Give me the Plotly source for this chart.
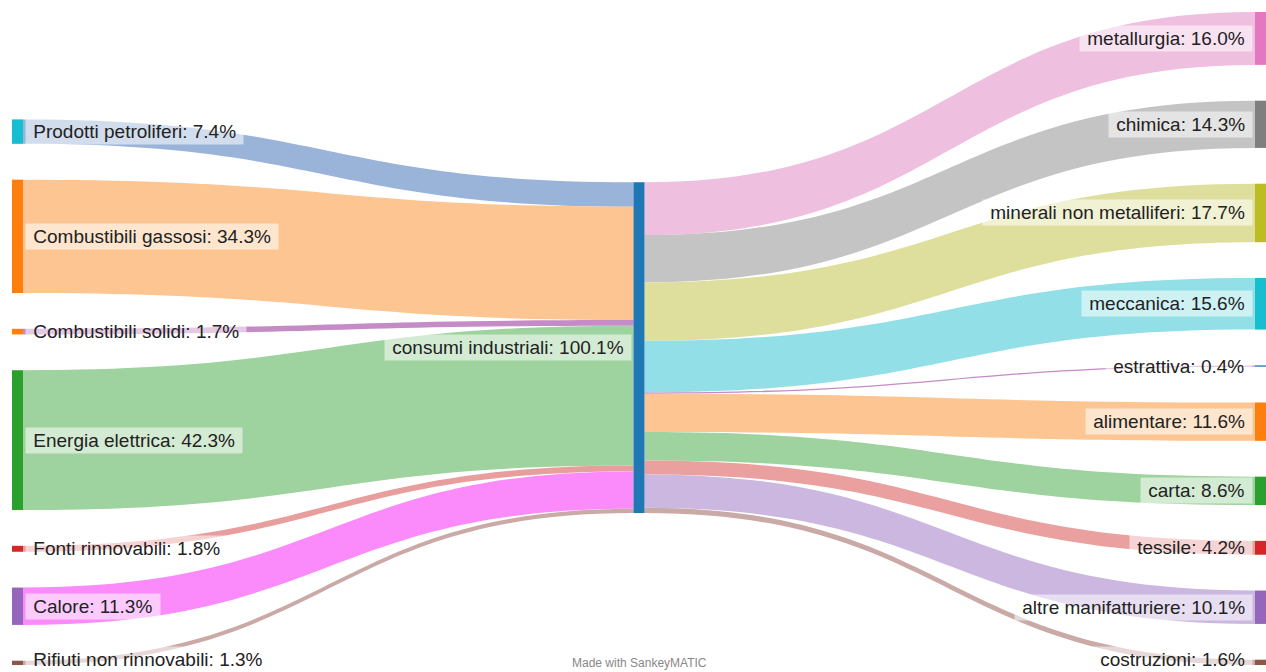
import plotly.graph_objects as go

# ---- data ----
sources = ["Prodotti petroliferi", "Combustibili gassosi", "Combustibili solidi",
           "Energia elettrica", "Fonti rinnovabili", "Calore", "Rifiuti non rinnovabili"]
source_values = [7.4, 34.3, 1.7, 42.3, 1.8, 11.3, 1.3]

hub = "consumi industriali"

targets = ["metallurgia", "chimica", "minerali non metalliferi", "meccanica", "estrattiva",
           "alimentare", "carta", "tessile", "altre manifatturiere", "costruzioni"]
target_values = [16.0, 14.3, 17.7, 15.6, 0.4, 11.6, 8.6, 4.2, 10.1, 1.6]

# ---- styles ----
source_node_colors = ["#17becf", "#ff7f0e", "#ff7f0e", "#2ca02c", "#d62728", "#9467bd", "#8c564b"]
source_link_colors = ["rgb(154,179,216)", "rgb(253,197,145)", "rgb(196,139,198)",
                      "rgb(158,210,158)", "rgb(233,158,158)", "rgb(251,139,251)",
                      "rgb(201,170,166)"]
hub_color = "#1f77b4"
target_node_colors = ["#e377c2", "#7f7f7f", "#bcbd22", "#17becf", "#1f77b4",
                      "#ff7f0e", "#2ca02c", "#d62728", "#9467bd", "#8c564b"]
target_link_colors = ["rgb(239,191,223)", "rgb(196,196,196)", "rgb(223,223,157)",
                      "rgb(147,223,231)", "rgb(196,139,198)", "rgb(253,197,145)",
                      "rgb(158,210,158)", "rgb(235,160,160)", "rgb(203,183,223)",
                      "rgb(201,170,166)"]

FONT = "Liberation Sans, Arial, sans-serif"
LABEL_SIZE = 19
LABEL_COLOR = "#222222"
LABEL_BG = "rgba(255,255,255,0.55)"
NBSP = "\u00a0"

# ---- layout parameters (pixels) ----
FIG_W, FIG_H = 1266, 672
M_L, M_R, M_T, M_B = 12, 0, 12, 7
PAD = 35.8          # vertical gap between nodes
THICK = 11          # node thickness
LABEL_GAP = 2       # gap between node and label box
LABEL_HALF_H = 13   # half height of a label box

W = FIG_W - M_L - M_R
H = FIG_H - M_T - M_B

HUB_X, HUB_Y = 0.5, 0.514   # hub node centre (fraction of plot area)

total = sum(source_values)
n_max = max(len(source_values), len(target_values))
ky = (H - (n_max - 1) * PAD) / total   # same scale the sankey layout uses


def column_centers(values, align_bottom):
    span = sum(values) * ky + (len(values) - 1) * PAD
    y = (H - span) if align_bottom else 0.0
    centers = []
    for v in values:
        h = v * ky
        centers.append((y + h / 2) / H)
        y += h + PAD
    return centers


left_y = column_centers(source_values, align_bottom=True)
right_y = column_centers(target_values, align_bottom=False)
left_x = [(THICK / 2) / W] * len(source_values)
right_x = [1 - (THICK / 2) / W] * len(target_values)

hub_total = round(sum(source_values), 1)
src_labels = [f"{n}: {v:.1f}%" for n, v in zip(sources, source_values)]
hub_label = f"{hub}: {hub_total:.1f}%"
tgt_labels = [f"{n}: {v:.1f}%" for n, v in zip(targets, target_values)]
labels = src_labels + [hub_label] + tgt_labels
hub_idx = len(sources)

link_src = list(range(len(sources))) + [hub_idx] * len(targets)
link_tgt = [hub_idx] * len(sources) + [hub_idx + 1 + i for i in range(len(targets))]
link_val = source_values + target_values

fig = go.Figure(go.Sankey(
    arrangement="fixed",
    node=dict(
        # node labels are drawn below as boxed annotations; names kept for hover
        label=[""] * len(labels),
        customdata=labels,
        hovertemplate="%{customdata}<extra></extra>",
        color=source_node_colors + [hub_color] + target_node_colors,
        pad=PAD,
        thickness=THICK,
        line=dict(width=0),
        x=left_x + [HUB_X] + right_x,
        y=left_y + [HUB_Y] + right_y,
    ),
    link=dict(
        source=link_src,
        target=link_tgt,
        value=link_val,
        color=source_link_colors + target_link_colors,
    ),
    textfont=dict(family=FONT, size=LABEL_SIZE, color=LABEL_COLOR),
))


def add_label(text, x_edge, y_center_top, side):
    y_paper = 1 - y_center_top
    dist_bottom = y_paper * H + M_B
    shift_up = max(0.0, LABEL_HALF_H - dist_bottom)
    fig.add_annotation(
        text=f"{NBSP}{text}{NBSP}", xref="paper", yref="paper",
        x=x_edge, y=y_paper,
        xanchor="left" if side == "right" else "right", yanchor="middle",
        xshift=LABEL_GAP if side == "right" else -LABEL_GAP, yshift=shift_up,
        showarrow=False, bgcolor=LABEL_BG, borderpad=2,
        font=dict(family=FONT, size=LABEL_SIZE, color=LABEL_COLOR),
    )


for t, x, y in zip(src_labels, left_x, left_y):
    add_label(t, x + (THICK / 2) / W, y, "right")
add_label(hub_label, HUB_X - (THICK / 2) / W, HUB_Y, "left")
for t, x, y in zip(tgt_labels, right_x, right_y):
    add_label(t, x - (THICK / 2) / W, y, "left")

fig.add_annotation(text="Made with SankeyMATIC", xref="paper", yref="paper",
                   x=0.5, y=0, yanchor="bottom", yshift=-M_B, showarrow=False,
                   font=dict(family=FONT, size=12, color="#888888"))

fig.update_layout(
    width=FIG_W, height=FIG_H,
    margin=dict(l=M_L, r=M_R, t=M_T, b=M_B),
    paper_bgcolor="white",
    plot_bgcolor="white",
    font=dict(family=FONT),
)

fig.write_html("out.html",
               config={"displayModeBar": False},
               post_script="document.body.style.margin='0px';document.body.style.overflow='hidden';")
